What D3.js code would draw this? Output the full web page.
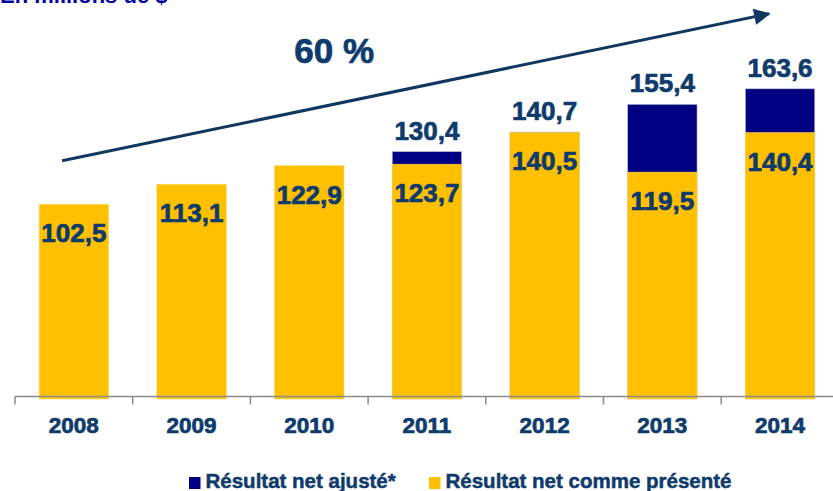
<!DOCTYPE html>
<html>
<head>
<meta charset="utf-8">
<script src="https://cdn.jsdelivr.net/npm/d3@7"></script>
<style>
  body { margin: 0; background: #fff; }
  svg { display: block; font-family: "Liberation Sans", Arial, sans-serif; font-weight: bold; }
  .heavy { stroke: #0F3B6C; stroke-width: 0.7px; stroke-linejoin: round; }
</style>
</head>
<body>
<div id="container"></div>
<script>
// data
var YEARS = ["2008", "2009", "2010", "2011", "2012", "2013", "2014"];
var REPORTED = [102.5, 113.1, 122.9, 123.7, 140.5, 119.5, 140.4];   // Résultat net comme présenté
var ADJUSTED = [null, null, null, 130.4, 140.7, 155.4, 163.6];      // Résultat net ajusté*
var GROWTH_LABEL = "60 %";
var LEGEND = ["Résultat net ajusté*", "Résultat net comme présenté"];

var WIDTH = 833, HEIGHT = 491;
var YELLOW = "#FFC000", NAVY = "#000080", TEXT = "#0F3B6C";

var fmt = function( v ) { return v.toFixed(1).replace(".", ","); };

var svg = d3.select("#container").append("svg")
    .attr("width", WIDTH)
    .attr("height", HEIGHT);

var x = d3.scaleBand()
    .domain(YEARS)
    .range([15, 15 + 7 * 117.7])
    .paddingInner(0.41)
    .paddingOuter(0.205);

var y = d3.scaleLinear()
    .domain([0, 200])
    .range([398, 20]);

// centre of a category, by (fractional) index
var cx = function( i ) { return x.range()[0] + (i + 0.5) * x.step(); };

// title, mostly cut off at the top (as in the source slide)
svg.append("text")
    .attr("x", 0)
    .attr("y", 3)
    .attr("fill", "#0000A0")
    .style("font-size", "22px")
    .text("En millions de $");

var rows = YEARS.map(function( yr, i ) {
    return { year: yr, rep: REPORTED[i], adj: ADJUSTED[i] };
});

var g = svg.append("g");

// adjusted (navy) drawn behind, reported (yellow) on top
g.selectAll("rect.adj")
    .data(rows.filter(function(d){ return d.adj != null; }))
    .enter().append("rect")
    .attr("class", "adj")
    .attr("x", function(d){ return x(d.year); })
    .attr("width", x.bandwidth())
    .attr("y", function(d){ return y(d.adj); })
    .attr("height", function(d){ return y(0) + 1 - y(d.adj); })
    .attr("fill", NAVY)
    .attr("stroke", "#c8c8d8")
    .attr("stroke-width", 0.6);

g.selectAll("rect.rep")
    .data(rows)
    .enter().append("rect")
    .attr("class", "rep")
    .attr("x", function(d){ return x(d.year); })
    .attr("width", x.bandwidth())
    .attr("y", function(d){ return y(d.rep); })
    .attr("height", function(d){ return y(0) + 1 - y(d.rep); })
    .attr("fill", YELLOW)
    .attr("stroke", "#ffd966")
    .attr("stroke-width", 0.6);

// labels inside yellow bars
g.selectAll("text.rep-label")
    .data(rows)
    .enter().append("text")
    .attr("class", "rep-label heavy")
    .attr("x", function(d){ return x(d.year) + x.bandwidth() / 2; })
    .attr("y", function(d){ return y(d.rep) + 38; })
    .attr("text-anchor", "middle")
    .attr("fill", TEXT)
    .style("font-size", "26px")
    .text(function(d){ return fmt(d.rep); });

// labels above adjusted totals
g.selectAll("text.adj-label")
    .data(rows.filter(function(d){ return d.adj != null; }))
    .enter().append("text")
    .attr("class", "adj-label heavy")
    .attr("x", function(d){ return x(d.year) + x.bandwidth() / 2; })
    .attr("y", function(d){ return y(d.adj) - 12; })
    .attr("text-anchor", "middle")
    .attr("fill", TEXT)
    .style("font-size", "26px")
    .text(function(d){ return fmt(d.adj); });

// x axis: line with ticks between categories
var axisY = 396.5;
var axis = svg.append("g").attr("transform", "translate(0," + axisY + ")");
axis.append("line")
    .attr("x1", x.range()[0]).attr("x2", WIDTH)
    .attr("stroke", "#8c8c8c").attr("stroke-width", 1.5);
axis.selectAll("line.tick")
    .data(d3.range(YEARS.length + 1))
    .enter().append("line")
    .attr("class", "tick")
    .attr("x1", function(i){ return x.range()[0] + i * x.step(); })
    .attr("x2", function(i){ return x.range()[0] + i * x.step(); })
    .attr("y1", 0).attr("y2", 8)
    .attr("stroke", "#8c8c8c").attr("stroke-width", 1.5);
axis.selectAll("text")
    .data(YEARS)
    .enter().append("text")
    .attr("class", "heavy")
    .attr("x", function(d){ return x(d) + x.bandwidth() / 2; })
    .attr("y", 36.5)
    .attr("text-anchor", "middle")
    .attr("fill", TEXT)
    .style("font-size", "22.5px")
    .text(function(d){ return d; });

// growth arrow, placed in data terms
var arrowFrom = { i: -0.1, v: 125.5 };
var arrowTo = { i: 5.906, v: 203.3 };
svg.append("defs").append("marker")
    .attr("id", "head")
    .attr("viewBox", "0 0 10 10")
    .attr("refX", 9).attr("refY", 5)
    .attr("markerWidth", 6).attr("markerHeight", 5.5)
    .attr("markerUnits", "strokeWidth")
    .attr("orient", "auto")
    .append("path")
    .attr("d", "M0,0 L10,5 L0,10 Z")
    .attr("fill", "#10375F");
svg.append("line")
    .attr("x1", cx(arrowFrom.i)).attr("y1", y(arrowFrom.v))
    .attr("x2", cx(arrowTo.i)).attr("y2", y(arrowTo.v))
    .attr("stroke", "#10375F")
    .attr("stroke-width", 3)
    .attr("marker-end", "url(#head)");

svg.append("text")
    .attr("class", "heavy")
    .attr("x", cx(1.94) + 32)
    .attr("y", y(177.3))
    .attr("text-anchor", "middle")
    .attr("fill", TEXT)
    .style("font-size", "35px")
    .text(GROWTH_LABEL);

// legend
var legend = svg.append("g").attr("transform", "translate(189,488)");
var legX = [0, 240];
var legCol = [NAVY, YELLOW];
LEGEND.forEach(function( lbl, i ) {
    legend.append("rect")
        .attr("x", legX[i]).attr("y", -11)
        .attr("width", 11.5).attr("height", 12)
        .attr("fill", legCol[i]);
    legend.append("text")
        .attr("class", "heavy")
        .attr("x", legX[i] + 16.5).attr("y", 0)
        .attr("fill", TEXT)
        .style("font-size", "20.5px")
        .style("stroke-width", "0.5px")
        .text(lbl);
});
</script>
</body>
</html>
